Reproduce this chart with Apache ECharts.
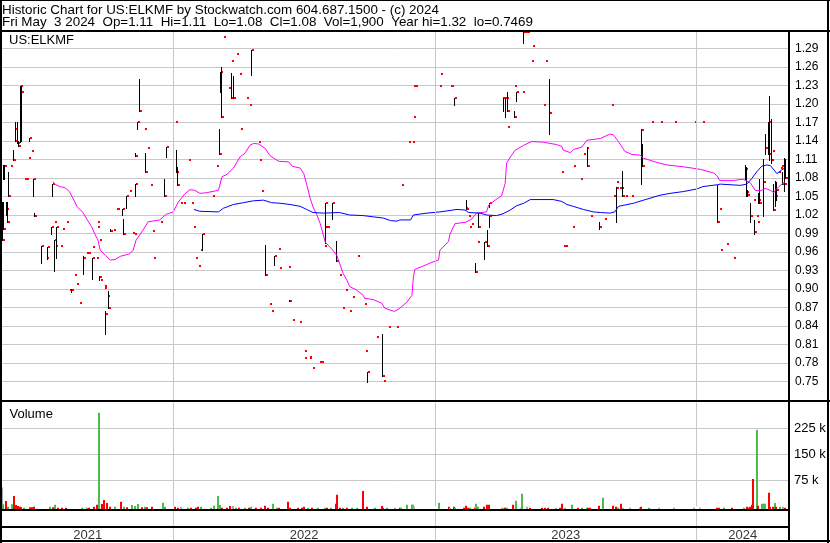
<!DOCTYPE html>
<html><head><meta charset="utf-8">
<script src="https://cdn.jsdelivr.net/npm/echarts@6/dist/echarts.min.js"></script>
<style>html,body{margin:0;padding:0;background:#fff}#c{width:830px;height:543px}</style>
</head><body><div id="c"></div>
<script>
const FONT = '"Liberation Sans", Arial, sans-serif';
const headerLine1 = 'Historic Chart for US:ELKMF by Stockwatch.com 604.687.1500 - (c) 2024';
const headerLine2 = 'Fri May  3 2024  Op=1.11  Hi=1.11  Lo=1.08  Cl=1.08  Vol=1,900  Year hi=1.32  lo=0.7469';
const symbolName = 'US:ELKMF';
const xMin = '2021-05-07', xMax = '2024-05-09';
const yearStarts = ['2022-01-01', '2023-01-01', '2024-01-01'];
const yearLabels = ['2021', '2022', '2023', '2024'];
const priceMin = 0.72, priceMax = 1.3164, priceStep = 0.03;
const volMin = 0, volMax = 300000, volStep = 75000;

// [date, lo, hi, close]  or  [date, close] when lo = hi = close
const ohlc = [
['2021-05-07',0.979,1.041,0.979],['2021-05-08',0.998,1.041,0.998],['2021-05-09',1.079,1.101,1.099],['2021-05-10',1.079,1.101,1.099],
['2021-05-12',1.020,1.041,1.030],['2021-05-14',1.009,1.041,1.009],['2021-05-16',1.051,1.090,1.051],['2021-05-18',1.099],
['2021-05-22',1.109,1.125,1.109],['2021-05-24',1.159],['2021-05-25',1.140,1.170,1.140],['2021-05-28',1.136,1.170,1.136],
['2021-05-29',1.131,1.140,1.131],['2021-06-01',1.138,1.229,1.229],['2021-06-03',1.140,1.229,1.220],['2021-06-06',1.079],
['2021-06-09',1.079],['2021-06-12',1.113],['2021-06-13',1.140,1.144,1.144],['2021-06-17',1.124],['2021-06-19',1.050,1.079,1.078],
['2021-06-21',1.019,1.023,1.019],['2021-06-30',0.942,0.970,0.970],['2021-07-07',0.950],['2021-07-08',0.950],
['2021-07-09',0.948,0.968,0.968],['2021-07-14',0.990,1.000,1.000],['2021-07-16',1.050,1.070,1.070],['2021-07-18',1.009],
['2021-07-19',0.930,0.980,0.979],['2021-07-20',0.970],['2021-07-22',0.950,1.000,1.000],['2021-07-27',0.970],['2021-07-30',0.997],
['2021-08-04',1.009],['2021-08-09',0.899],['2021-08-11',0.896,0.900,0.899],['2021-08-16',0.923],['2021-08-18',0.908],
['2021-08-22',0.878],['2021-08-28',0.924,0.953,0.950],['2021-09-01',0.959],['2021-09-04',0.959],['2021-09-09',0.968],
['2021-09-10',0.916,0.950,0.950],['2021-09-15',0.950],['2021-09-16',1.009],['2021-09-17',1.000],['2021-09-19',0.979],
['2021-09-20',0.915,0.921,0.920],['2021-09-21',0.915],['2021-09-26',0.905],['2021-09-27',0.902],['2021-09-28',0.827,0.864,0.860],
['2021-09-30',0.889],['2021-10-02',0.870,0.897,0.870],['2021-10-05',0.994,0.997,0.994],['2021-10-09',0.996],['2021-10-13',1.030],
['2021-10-14',1.030],['2021-10-22',1.020,1.030,1.030],['2021-10-23',0.989,1.014,0.989],['2021-10-27',1.031,1.051,1.050],
['2021-10-31',1.059],['2021-11-05',0.991],['2021-11-07',0.989],['2021-11-08',1.050,1.070,1.070],['2021-11-09',1.116,1.120,1.116],
['2021-11-11',1.159,1.170,1.170],['2021-11-14',1.188,1.240,1.188],['2021-11-21',1.159],['2021-11-23',1.090,1.120,1.090],
['2021-11-25',1.129],['2021-11-29',1.069],['2021-12-02',0.994],['2021-12-03',0.950],['2021-12-13',1.009],
['2021-12-19',1.050,1.079,1.050],['2021-12-22',1.114,1.130,1.130],['2022-01-03',1.170],['2022-01-05',1.089,1.125,1.089],
['2022-01-06',1.069,1.098,1.069],['2022-01-10',1.039],['2022-01-14',1.039],['2022-01-22',1.109],['2022-01-25',1.039],
['2022-01-28',1.000],['2022-01-31',0.950],['2022-02-05',0.938],['2022-02-07',0.963],['2022-02-10',0.963,0.990,0.990],
['2022-02-24',1.050],['2022-03-01',1.099],['2022-03-06',1.119,1.160,1.119],['2022-03-07',1.220,1.251,1.251],
['2022-03-09',1.178,1.259,1.179],['2022-03-11',1.309],['2022-03-18',1.225],['2022-03-22',1.270],['2022-03-23',1.209,1.250,1.209],
['2022-03-25',1.209,1.245,1.209],['2022-03-30',1.280],['2022-04-02',1.249],['2022-04-04',1.159],['2022-04-12',1.209],
['2022-04-16',1.198],['2022-04-20',1.246,1.288,1.288],['2022-04-29',1.138],['2022-04-30',1.109],['2022-05-04',1.059],
['2022-05-09',0.923,0.971,0.923],['2022-05-14',0.876],['2022-05-17',0.865],['2022-05-22',0.939,0.954,0.954],['2022-05-27',0.965],
['2022-05-29',0.934],['2022-06-10',0.936],['2022-06-12',0.881,0.882,0.881],['2022-06-15',0.850],['2022-06-26',0.847],
['2022-07-02',0.800],['2022-07-03',0.788],['2022-07-09',0.788],['2022-07-10',0.790],['2022-07-14',0.772],['2022-07-23',0.782],
['2022-07-26',0.782],['2022-07-30',0.970],['2022-07-31',0.974,1.000,1.000],['2022-08-01',0.974,1.040,1.040],['2022-08-03',1.000],
['2022-08-10',1.014,1.040,1.040],['2022-08-16',0.945,0.978,0.945],['2022-08-20',0.922],['2022-08-24',0.870],['2022-08-28',0.899],
['2022-09-03',0.864],['2022-09-07',0.887],['2022-09-14',0.953],['2022-09-24',0.876],['2022-09-25',0.800],
['2022-09-28',0.749,0.766,0.766],['2022-10-11',0.822],['2022-10-19',0.760,0.828,0.760],['2022-10-21',0.751],['2022-10-27',0.839],
['2022-11-07',0.839],['2022-11-14',1.069],['2022-11-24',1.138],['2022-11-30',1.138],['2022-12-01',1.179],['2022-12-02',1.229],
['2022-12-04',1.229],['2023-01-06',1.229],['2023-01-08',1.249],['2023-01-22',1.229],['2023-01-23',1.229],
['2023-01-28',1.198,1.209,1.209],['2023-02-12',1.031],['2023-02-14',1.030,1.045,1.030],['2023-02-16',1.019],['2023-02-17',1.000],
['2023-02-21',1.006],['2023-02-26',0.928,0.942,0.928],['2023-03-01',0.976],['2023-03-02',1.000,1.023,1.000],
['2023-03-11',0.948,0.976,0.976],['2023-03-15',0.970,0.996,0.970],['2023-03-17',1.033,1.040,1.040],['2023-03-18',1.000,1.019,1.019],
['2023-04-05',1.209],['2023-04-06',1.189,1.209,1.209],['2023-04-08',1.209],['2023-04-09',1.179,1.209,1.209],['2023-04-10',1.209],
['2023-04-11',1.162],['2023-04-12',1.188,1.220,1.188],['2023-04-21',1.229],['2023-04-22',1.178,1.189,1.179],
['2023-04-24',1.205,1.219,1.219],['2023-05-02',1.219],['2023-05-04',1.299,1.320,1.316],['2023-05-06',1.316],['2023-05-10',1.316],
['2023-05-15',1.270],['2023-05-16',1.294],['2023-06-01',1.198],['2023-06-04',1.270],['2023-06-09',1.151,1.240,1.185],
['2023-06-26',1.090],['2023-06-29',0.970],['2023-07-02',0.970],['2023-07-11',1.000],['2023-07-12',1.099],['2023-07-22',1.078],
['2023-07-26',1.119],['2023-07-31',1.129],['2023-08-01',1.099,1.130,1.099],['2023-08-06',1.019],['2023-08-18',0.998,1.009,1.000],
['2023-08-25',1.014],['2023-09-03',1.198],['2023-09-07',1.050],['2023-09-10',1.073],['2023-09-11',1.009,1.066,1.064],
['2023-09-15',1.064],['2023-09-18',1.064],['2023-09-19',1.050,1.091,1.050],['2023-09-23',1.050],['2023-10-01',1.050],
['2023-10-16',1.070,1.159,1.158],['2023-10-17',1.099,1.135,1.099],['2023-10-29',1.170],['2023-11-11',1.170],['2023-12-01',1.170],
['2023-12-28',1.170],['2024-01-09',1.170],['2024-01-30',1.009,1.068,1.009],['2024-02-01',1.030],['2024-02-03',0.963],
['2024-02-11',0.973],['2024-02-21',0.950],['2024-03-08',1.079,1.101,1.095],['2024-03-10',1.050,1.098,1.058],
['2024-03-11',1.050,1.060,1.053],['2024-03-16',1.009,1.040,1.019],['2024-03-20',1.045],['2024-03-21',0.990,1.012,0.992],
['2024-03-24',1.019],['2024-03-25',1.009],['2024-03-27',1.039,1.055,1.044],['2024-03-28',1.039,1.079,1.040],
['2024-04-03',1.019,1.111,1.073],['2024-04-06',1.119,1.151,1.129],['2024-04-10',1.119,1.171,1.119],['2024-04-11',1.109,1.212,1.170],
['2024-04-14',1.105,1.175,1.109],['2024-04-15',1.124],['2024-04-16',1.028,1.070,1.028],['2024-04-19',1.035,1.075,1.050],
['2024-04-21',1.044,1.074,1.060],['2024-04-23',1.090],['2024-04-26',1.096],['2024-04-28',1.099],['2024-04-29',1.070,1.090,1.070],
['2024-05-02',1.059,1.112,1.070],['2024-05-03',1.080,1.110,1.080]
];

// [date, volume, u = up / d = down / n = unchanged]
const volumes = [
['2021-05-07',63000,'n'],['2021-05-08',14000,'u'],['2021-05-12',23000,'d'],['2021-05-15',6700,'u'],['2021-05-21',14000,'u'],
['2021-05-24',37500,'d'],['2021-05-27',11500,'d'],['2021-05-29',8700,'d'],['2021-06-01',6700,'d'],['2021-06-03',4800,'d'],
['2021-06-07',3800,'u'],['2021-06-15',4800,'d'],['2021-06-18',4800,'d'],['2021-06-21',6700,'d'],['2021-07-13',6700,'u'],
['2021-07-17',4800,'d'],['2021-07-20',12500,'u'],['2021-07-24',3800,'d'],['2021-07-30',3800,'d'],['2021-08-04',3800,'d'],
['2021-08-26',3800,'u'],['2021-09-02',3800,'u'],['2021-09-06',3800,'d'],['2021-09-13',6700,'d'],['2021-09-16',12500,'d'],
['2021-09-20',278000,'u'],['2021-09-24',14400,'d'],['2021-09-27',26000,'d'],['2021-10-01',17300,'d'],['2021-10-05',6700,'d'],
['2021-10-11',6700,'u'],['2021-10-20',21000,'d'],['2021-10-24',6700,'u'],['2021-10-28',4800,'d'],['2021-11-05',11500,'u'],
['2021-11-08',8700,'u'],['2021-11-13',14400,'u'],['2021-11-19',4800,'d'],['2021-11-23',6700,'u'],['2021-11-25',4800,'d'],
['2021-12-02',6700,'d'],['2021-12-18',18300,'u'],['2021-12-21',6700,'u'],['2022-01-03',6700,'d'],['2022-01-08',3800,'d'],
['2022-01-12',6700,'n'],['2022-01-22',3800,'u'],['2022-01-26',3800,'d'],['2022-02-01',3800,'d'],['2022-02-04',6700,'d'],
['2022-02-09',6700,'u'],['2022-02-23',3800,'u'],['2022-02-27',9600,'u'],['2022-03-05',37500,'u'],['2022-03-07',11500,'u'],
['2022-03-10',3800,'d'],['2022-03-17',3800,'d'],['2022-03-21',8700,'d'],['2022-03-25',8700,'n'],['2022-03-29',3800,'u'],
['2022-04-02',3800,'d'],['2022-04-11',3800,'u'],['2022-04-16',3800,'d'],['2022-04-19',6700,'u'],['2022-04-27',3800,'d'],
['2022-05-04',3800,'d'],['2022-05-09',9600,'d'],['2022-05-13',3800,'d'],['2022-05-20',15400,'u'],['2022-05-26',3800,'u'],
['2022-05-28',3800,'d'],['2022-06-10',21000,'d'],['2022-06-13',3800,'d'],['2022-06-24',3800,'d'],['2022-06-29',3800,'d'],
['2022-07-02',6700,'d'],['2022-07-08',3800,'u'],['2022-07-13',3800,'d'],['2022-07-22',3800,'u'],['2022-07-31',3800,'u'],
['2022-08-03',3800,'d'],['2022-08-09',3800,'u'],['2022-08-16',15400,'d'],['2022-08-18',41000,'d'],['2022-08-21',3800,'d'],
['2022-08-26',3800,'u'],['2022-09-01',3800,'d'],['2022-09-07',3800,'u'],['2022-09-14',3800,'u'],['2022-09-23',52000,'d'],
['2022-09-28',6700,'d'],['2022-10-09',3800,'u'],['2022-10-19',8700,'d'],['2022-10-21',3800,'d'],['2022-10-26',3800,'u'],
['2022-11-06',3800,'n'],['2022-11-13',3800,'d'],['2022-11-14',3800,'u'],['2022-11-23',12500,'u'],['2022-11-30',12500,'u'],
['2022-12-01',12500,'u'],['2022-12-03',6700,'n'],['2023-01-06',18300,'u'],['2023-01-20',6700,'d'],['2023-01-22',3800,'n'],
['2023-01-27',6700,'d'],['2023-01-29',3800,'u'],['2023-02-10',3800,'d'],['2023-02-13',9600,'d'],['2023-02-16',3800,'d'],
['2023-02-19',3800,'u'],['2023-02-26',3800,'d'],['2023-02-28',15400,'u'],['2023-03-02',6700,'u'],['2023-03-10',6700,'d'],
['2023-03-14',12500,'d'],['2023-03-17',12500,'d'],['2023-04-04',3800,'n'],['2023-04-07',3800,'n'],['2023-04-09',3800,'d'],
['2023-04-11',3800,'u'],['2023-04-20',12500,'d'],['2023-04-24',24000,'u'],['2023-05-01',3800,'n'],['2023-05-03',44000,'u'],
['2023-05-09',6700,'n'],['2023-05-14',3800,'d'],['2023-05-30',3800,'d'],['2023-06-04',3800,'d'],['2023-06-08',3800,'d'],
['2023-06-19',3800,'n'],['2023-06-24',3800,'d'],['2023-06-27',15400,'d'],['2023-07-01',3800,'n'],['2023-07-11',12500,'u'],
['2023-07-20',3800,'d'],['2023-07-25',3800,'u'],['2023-08-01',3800,'u'],['2023-08-03',3800,'d'],['2023-08-05',3800,'d'],
['2023-08-18',9600,'d'],['2023-08-24',32700,'u'],['2023-09-06',9600,'d'],['2023-09-10',6700,'d'],['2023-09-12',3800,'d'],
['2023-09-14',3800,'u'],['2023-09-18',15400,'d'],['2023-09-21',3800,'n'],['2023-09-30',3800,'n'],['2023-10-14',3800,'u'],
['2023-10-16',6700,'d'],['2023-10-27',3800,'u'],['2023-11-09',3800,'n'],['2023-11-30',3800,'n'],['2023-12-28',3800,'n'],
['2024-01-06',3800,'n'],['2024-01-29',3800,'d'],['2024-02-01',3800,'d'],['2024-02-09',3800,'u'],['2024-02-20',3800,'d'],
['2024-03-07',3800,'u'],['2024-03-11',6700,'d'],['2024-03-13',3800,'d'],['2024-03-15',6700,'d'],['2024-03-18',12500,'d'],
['2024-03-20',86500,'d'],['2024-03-25',228000,'u'],['2024-03-27',9600,'d'],['2024-04-02',15400,'u'],['2024-04-04',15400,'u'],
['2024-04-06',15400,'u'],['2024-04-11',47000,'d'],['2024-04-13',6700,'d'],['2024-04-16',6700,'d'],['2024-04-19',17300,'u'],
['2024-04-21',6700,'d'],['2024-04-26',6700,'u'],['2024-04-30',6700,'n'],['2024-05-03',1900,'d']
];

// short moving average (magenta)
const maShort = [
['2021-07-17',1.074],['2021-07-21',1.069],['2021-07-27',1.066],['2021-08-03',1.064],['2021-08-09',1.058],['2021-08-14',1.047],
['2021-08-20',1.033],['2021-08-28',1.024],['2021-09-03',1.012],['2021-09-09',1.001],['2021-09-14',0.988],['2021-09-18',0.979],
['2021-09-21',0.963],['2021-09-28',0.955],['2021-10-05',0.947],['2021-10-12',0.948],['2021-10-19',0.953],['2021-11-01',0.957],
['2021-11-06',0.963],['2021-11-10',0.979],['2021-11-20',0.996],['2021-11-27',1.009],['2021-12-08',1.011],['2021-12-13',1.012],
['2021-12-22',1.021],['2022-01-01',1.025],['2022-01-08',1.041],['2022-01-17',1.054],['2022-01-24',1.061],['2022-01-31',1.060],
['2022-02-07',1.055],['2022-02-16',1.056],['2022-03-05',1.060],['2022-03-10',1.082],['2022-03-17',1.086],['2022-03-26',1.096],
['2022-04-04',1.114],['2022-04-11',1.120],['2022-04-18',1.133],['2022-04-23',1.136],['2022-04-30',1.135],['2022-05-09',1.128],
['2022-05-16',1.116],['2022-05-28',1.107],['2022-06-11',1.106],['2022-06-16',1.099],['2022-06-27',1.096],['2022-07-02',1.087],
['2022-07-06',1.070],['2022-07-11',1.047],['2022-07-15',1.033],['2022-07-20',1.021],['2022-07-25',1.006],['2022-08-01',0.976],
['2022-08-10',0.965],['2022-08-17',0.955],['2022-08-21',0.942],['2022-08-26',0.925],['2022-08-31',0.915],['2022-09-04',0.904],
['2022-09-13',0.899],['2022-09-23',0.890],['2022-09-25',0.885],['2022-10-07',0.883],['2022-10-19',0.877],['2022-10-23',0.869],
['2022-11-02',0.865],['2022-11-06',0.864],['2022-11-13',0.869],['2022-11-23',0.879],['2022-11-30',0.890],['2022-12-02',0.920],
['2022-12-04',0.932],['2022-12-13',0.936],['2022-12-25',0.942],['2023-01-06',0.947],['2023-01-08',0.963],['2023-01-20',0.977],
['2023-01-22',0.989],['2023-01-29',1.006],['2023-02-12',1.008],['2023-02-21',1.013],['2023-02-28',1.023],['2023-03-14',1.025],
['2023-03-17',1.036],['2023-03-26',1.044],['2023-04-04',1.051],['2023-04-09',1.071],['2023-04-11',1.104],['2023-04-18',1.117],
['2023-04-23',1.125],['2023-05-05',1.133],['2023-05-16',1.139],['2023-06-01',1.138],['2023-06-20',1.134],['2023-06-27',1.131],
['2023-06-29',1.125],['2023-07-09',1.121],['2023-07-13',1.126],['2023-07-25',1.130],['2023-08-01',1.141],['2023-08-20',1.144],
['2023-09-02',1.151],['2023-09-07',1.150],['2023-09-14',1.139],['2023-09-18',1.132],['2023-09-23',1.123],['2023-10-03',1.118],
['2023-10-14',1.117],['2023-10-19',1.112],['2023-11-07',1.105],['2023-11-21',1.101],['2023-12-14',1.098],['2024-01-06',1.094],
['2024-01-25',1.088],['2024-01-30',1.083],['2024-02-02',1.076],['2024-02-22',1.076],['2024-03-06',1.078],['2024-03-16',1.072],
['2024-03-23',1.060],['2024-03-30',1.059],['2024-04-06',1.063],['2024-04-13',1.060],['2024-04-18',1.056],['2024-04-20',1.060],
['2024-04-25',1.066],['2024-04-29',1.070],['2024-05-03',1.073]
];

// long moving average (blue)
const maLong = [
['2022-01-30',1.029],['2022-02-07',1.026],['2022-03-05',1.025],['2022-03-12',1.031],['2022-03-26',1.037],['2022-04-09',1.040],
['2022-04-23',1.043],['2022-05-07',1.044],['2022-05-18',1.040],['2022-05-30',1.039],['2022-06-13',1.037],['2022-06-27',1.034],
['2022-07-06',1.029],['2022-07-15',1.024],['2022-07-29',1.023],['2022-08-21',1.024],['2022-09-04',1.020],['2022-09-23',1.019],
['2022-10-07',1.017],['2022-10-21',1.015],['2022-10-31',1.011],['2022-11-09',1.010],['2022-11-13',1.012],['2022-11-28',1.012],
['2022-12-02',1.020],['2022-12-21',1.023],['2023-01-08',1.025],['2023-02-01',1.029],['2023-02-12',1.028],['2023-02-17',1.024],
['2023-03-05',1.023],['2023-03-14',1.020],['2023-03-28',1.019],['2023-04-06',1.022],['2023-04-16',1.028],['2023-04-25',1.035],
['2023-05-05',1.039],['2023-05-14',1.045],['2023-06-15',1.045],['2023-06-27',1.042],['2023-07-04',1.037],['2023-07-13',1.034],
['2023-07-27',1.029],['2023-08-10',1.025],['2023-08-20',1.024],['2023-09-02',1.023],['2023-09-09',1.025],['2023-09-14',1.034],
['2023-10-05',1.039],['2023-10-19',1.044],['2023-11-11',1.052],['2023-11-25',1.055],['2023-12-14',1.058],['2024-01-01',1.062],
['2024-01-10',1.066],['2024-01-30',1.069],['2024-02-03',1.070],['2024-03-02',1.068],['2024-03-11',1.070],['2024-03-18',1.079],
['2024-03-25',1.090],['2024-04-01',1.099],['2024-04-08',1.101],['2024-04-13',1.100],['2024-04-18',1.093],['2024-04-22',1.087],
['2024-04-29',1.093],['2024-05-03',1.096]
];

const volColors = { u: '#4cbb4c', d: '#ff0000', n: '#aaaaaa' };

function t(s) { const p = s.split('-').map(Number); return new Date(p[0], p[1] - 1, p[2]).getTime(); }

const priceData = ohlc.map(r => r.length === 2 ? [t(r[0]), r[1], r[1], r[1]] : [t(r[0]), r[1], r[2], r[3]]);
const volData = volumes.map(r => [t(r[0]), r[1], r[2]]);
const bounds = [t(xMin)].concat(yearStarts.map(t), [t(xMax)]);
const yearData = yearLabels.map((y, i) => [(bounds[i] + bounds[i + 1]) / 2, 0.18, y]);
const yearLines = {
  silent: true, symbol: ['none', 'none'], label: { show: false }, animation: false,
  lineStyle: { color: '#c8c8c8', width: 1, type: 'solid' },
  data: yearStarts.map(s => ({ xAxis: t(s) }))
};

const xAx = i => ({ type: 'time', gridIndex: i, min: t(xMin), max: t(xMax), show: false });

const chart = echarts.init(document.getElementById('c'), null, { renderer: 'canvas' });
chart.setOption({
  animation: false,
  backgroundColor: '#fff',
  grid: [
    { left: 2, top: 32, width: 787, height: 368.2 },
    { left: 2, top: 402.3, width: 787, height: 104 },
    { left: 2, top: 511, width: 787, height: 30 }
  ],
  xAxis: [xAx(0), xAx(1), xAx(2)],
  yAxis: [
    { type: 'value', gridIndex: 0, position: 'right', min: priceMin, max: priceMax, interval: priceStep,
      axisLine: { show: false }, axisTick: { show: false },
      splitLine: { show: true, showMinLine: false, showMaxLine: false, lineStyle: { color: '#c8c8c8', width: 1 } },
      axisLabel: { margin: 6, fontSize: 12, color: '#000', fontFamily: FONT,
        formatter: v => (v < 0.745 || v > 1.295) ? '' : v.toFixed(2) } },
    { type: 'value', gridIndex: 1, position: 'right', min: volMin, max: volMax, interval: volStep,
      axisLine: { show: false }, axisTick: { show: false },
      splitLine: { show: true, showMinLine: false, showMaxLine: false, lineStyle: { color: '#c8c8c8', width: 1 } },
      axisLabel: { margin: 5, fontSize: 13, color: '#000', fontFamily: FONT,
        formatter: v => (v <= 0 || v >= volMax) ? '' : (v / 1000) + ' k' } },
    { type: 'value', gridIndex: 2, min: 0, max: 1, show: false }
  ],
  series: [
    {
      type: 'custom', name: 'price', xAxisIndex: 0, yAxisIndex: 0, clip: true, z: 3,
      data: priceData, encode: { x: 0, y: [1, 2, 3] },
      markLine: yearLines,
      renderItem: (params, api) => {
        const x = api.value(0), lo = api.value(1), hi = api.value(2), cl = api.value(3);
        const top = api.coord([x, hi]), bot = api.coord([x, lo]), c = api.coord([x, cl]);
        const px = Math.round(top[0]);
        const children = [];
        if (hi > lo) children.push({ type: 'line', shape: { x1: px + 0.5, y1: Math.round(top[1]), x2: px + 0.5, y2: Math.round(bot[1]) + 1 },
          style: { stroke: '#000', lineWidth: 1 } });
        children.push({ type: 'rect', shape: { x: px + 1, y: Math.round(c[1]) - 1, width: 2, height: 2 }, style: { fill: '#ff0000' } });
        return { type: 'group', children };
      }
    },
    { type: 'line', name: 'MA short', xAxisIndex: 0, yAxisIndex: 0, data: maShort.map(r => [t(r[0]), r[1]]),
      showSymbol: false, symbol: 'none', lineStyle: { color: '#ff00ff', width: 1 }, z: 4 },
    { type: 'line', name: 'MA long', xAxisIndex: 0, yAxisIndex: 0, data: maLong.map(r => [t(r[0]), r[1]]),
      showSymbol: false, symbol: 'none', lineStyle: { color: '#0000ff', width: 1 }, z: 4 },
    {
      type: 'custom', name: 'volume', xAxisIndex: 1, yAxisIndex: 1, clip: false, z: 3,
      data: volData, encode: { x: 0, y: 1 },
      markLine: yearLines,
      renderItem: (params, api) => {
        const x = api.value(0), v = api.value(1);
        const kind = volData[params.dataIndex][2];
        const c = api.coord([x, v]);
        const h = Math.max(api.size([0, v])[1], 1.3);
        const base = params.coordSys.y + params.coordSys.height + 2.7;
        return { type: 'rect', shape: { x: Math.round(c[0]) - 1, y: base - h, width: 2, height: h },
          style: { fill: volColors[kind] } };
      }
    },
    { type: 'scatter', name: 'years', xAxisIndex: 2, yAxisIndex: 2, data: yearData, symbolSize: 0, silent: true,
      markLine: yearLines,
      label: { show: true, position: 'inside', formatter: p => p.data[2], fontSize: 13, color: '#000', fontFamily: FONT } }
  ],
  graphic: [
    { type: 'text', x: 2, y: 10.5, z: 10, style: { text: headerLine1, font: '13.4px ' + FONT, fill: '#000', verticalAlign: 'middle' } },
    { type: 'text', x: 2, y: 22, z: 10, style: { text: headerLine2, font: '13.4px ' + FONT, fill: '#000', verticalAlign: 'middle' } },
    { type: 'text', x: 9, y: 40, z: 10, style: { text: symbolName, font: '13px ' + FONT, fill: '#000', verticalAlign: 'middle' } },
    { type: 'text', x: 9.5, y: 414.5, z: 10, style: { text: 'Volume', font: '13px ' + FONT, fill: '#000', verticalAlign: 'middle' } },
    { type: 'line', z: 20, shape: { x1: 0, y1: 0.5, x2: 830, y2: 0.5 }, style: { stroke: '#000', lineWidth: 1 } },
    { type: 'line', z: 20, shape: { x1: 1, y1: 0, x2: 1, y2: 543 }, style: { stroke: '#000', lineWidth: 2 } },
    { type: 'line', z: 20, shape: { x1: 828, y1: 0, x2: 828, y2: 543 }, style: { stroke: '#000', lineWidth: 2 } },
    { type: 'line', z: 20, shape: { x1: 0, y1: 31, x2: 830, y2: 31 }, style: { stroke: '#000', lineWidth: 2 } },
    { type: 'line', z: 20, shape: { x1: 0, y1: 401, x2: 830, y2: 401 }, style: { stroke: '#000', lineWidth: 2 } },
    { type: 'line', z: 20, shape: { x1: 0, y1: 510, x2: 789, y2: 510 }, style: { stroke: '#000', lineWidth: 2 } },
    { type: 'line', z: 20, shape: { x1: 0, y1: 527, x2: 789, y2: 527 }, style: { stroke: '#000', lineWidth: 2 } },
    { type: 'line', z: 20, shape: { x1: 0, y1: 541, x2: 830, y2: 541 }, style: { stroke: '#000', lineWidth: 2 } },
    { type: 'line', z: 20, shape: { x1: 789, y1: 30, x2: 789, y2: 542 }, style: { stroke: '#000', lineWidth: 2 } }
  ]
});
</script></body></html>
